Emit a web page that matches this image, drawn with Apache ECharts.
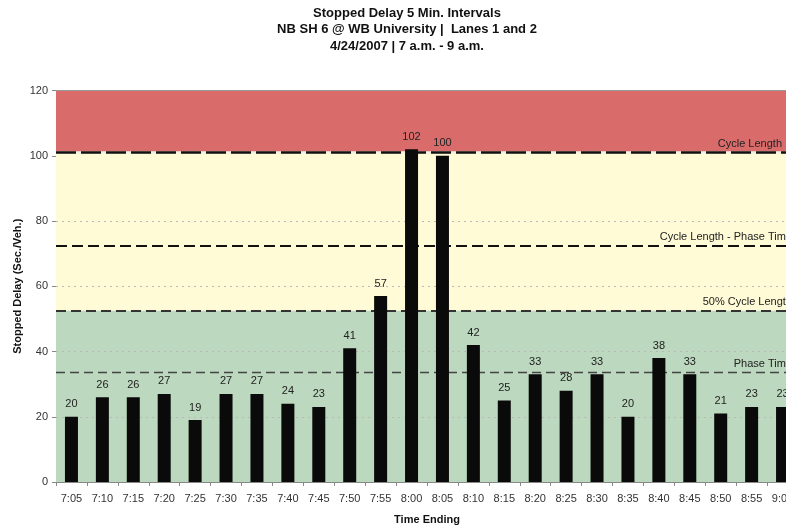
<!DOCTYPE html>
<html><head><meta charset="utf-8">
<script src="https://cdn.jsdelivr.net/npm/echarts@6/dist/echarts.min.js"></script>
<style>html,body{margin:0;padding:0;background:#fff}#c{width:786px;height:527px}</style>
</head><body><div id="c"></div>
<script>
const categories = ['7:05','7:10','7:15','7:20','7:25','7:30','7:35','7:40','7:45','7:50','7:55','8:00','8:05','8:10','8:15','8:20','8:25','8:30','8:35','8:40','8:45','8:50','8:55','9:00'];
const delays = [20,26,26,27,19,27,27,24,23,41,57,102,100,42,25,33,28,33,20,38,33,21,23,23];
const yTicks = [0,20,40,60,80,100,120];
const gridValues = [20,40,60,80];
const refNames = ['Cycle Length','Cycle Length - Phase Time','50% Cycle Length','Phase Time'];
const refValues = [101,72.5,52.5,33.5];
const bandFrom = [101,52.5,0];
const bandTo = [120,101,52.5];
const bandColors = ['#DA6B6B','#FFFBD6','#BCD8BE'];

const FONT = 'Liberation Sans, Arial, sans-serif';
const chart = echarts.init(document.getElementById('c'));

const refStyles = [
  {color:'#111', width:2.5, type:[20,5], dist:16},
  {color:'#111', width:2, type:[11,5], dist:6},
  {color:'#333', width:1.8, type:[10,5], dist:6},
  {color:'#444', width:1.3, type:[9,5], dist:6}
];

chart.setOption({
  animation:false,
  textStyle:{fontFamily:FONT},
  title:{
    text:'Stopped Delay 5 Min. Intervals\nNB SH 6 @ WB University |  Lanes 1 and 2\n4/24/2007 | 7 a.m. - 9 a.m.',
    left:402, top:0, textAlign:'center',
    textStyle:{fontFamily:FONT, fontSize:13, fontWeight:'bold', color:'#111', lineHeight:16.5}
  },
  grid:{left:56, top:90.5, width:742, height:391.5, outerBoundsMode:'none', containLabel:false},
  xAxis:{
    type:'category', data:categories,
    name:'Time Ending', nameLocation:'middle', nameGap:32,
    nameTextStyle:{fontFamily:FONT, fontSize:11, fontWeight:'bold', color:'#111'},
    axisLine:{lineStyle:{color:'#888'}},
    axisTick:{show:true, alignWithLabel:false, length:4, lineStyle:{color:'#888'}},
    axisLabel:{fontFamily:FONT, fontSize:11, color:'#333', margin:11, interval:0}
  },
  yAxis:{
    type:'value', min:0, max:120, interval:20,
    name:'Stopped Delay (Sec./Veh.)', nameLocation:'middle', nameGap:33, nameMoveOverlap:false,
    nameTextStyle:{fontFamily:FONT, fontSize:11, fontWeight:'bold', color:'#111'},
    axisLine:{show:true, lineStyle:{color:'#888'}},
    axisTick:{show:true, length:4, lineStyle:{color:'#888'}},
    axisLabel:{fontFamily:FONT, fontSize:11, color:'#333', margin:8,
      formatter:v=>yTicks.includes(v)?String(v):''},
    splitLine:{show:false}
  },
  series:[
    {
      type:'line', data:[], z:1, silent:true,
      markArea:{silent:true, label:{show:false},
        data:bandFrom.map((f,i)=>[{yAxis:f, itemStyle:{color:bandColors[i]}},{yAxis:bandTo[i]}])
      }
    },
    {
      type:'line', data:[], z:2, silent:true,
      markLine:{silent:true, symbol:'none', label:{show:false},
        lineStyle:{color:'#b8b8b8', width:1, type:[2,4]},
        data:gridValues.map(v=>({yAxis:v})).concat([{yAxis:120, lineStyle:{color:'#999', type:'solid', width:1}}])
      }
    },
    {
      type:'line', data:[], z:3, silent:true,
      markLine:{silent:true, symbol:'none',
        data:[{yAxis:refValues[0], lineStyle:{color:'#f4efe0', width:2.5, type:'solid'}, label:{show:false}}]
      }
    },
    {
      type:'line', data:[], z:4, silent:true,
      markLine:{silent:true, symbol:'none',
        data:refValues.map((v,i)=>({
          yAxis:v,
          lineStyle:{color:refStyles[i].color, width:refStyles[i].width, type:refStyles[i].type},
          label:{show:true, position:'insideEndTop', formatter:refNames[i], distance:[refStyles[i].dist,3],
            fontFamily:FONT, fontSize:11, color:'#222'}
        }))
      }
    },
    {
      type:'bar', data:delays, z:5, barWidth:13,
      itemStyle:{color:'#0a0a0a'},
      label:{show:true, position:'top', distance:7, fontFamily:FONT, fontSize:11, color:'#222'}
    }
  ]
});
</script></body></html>
